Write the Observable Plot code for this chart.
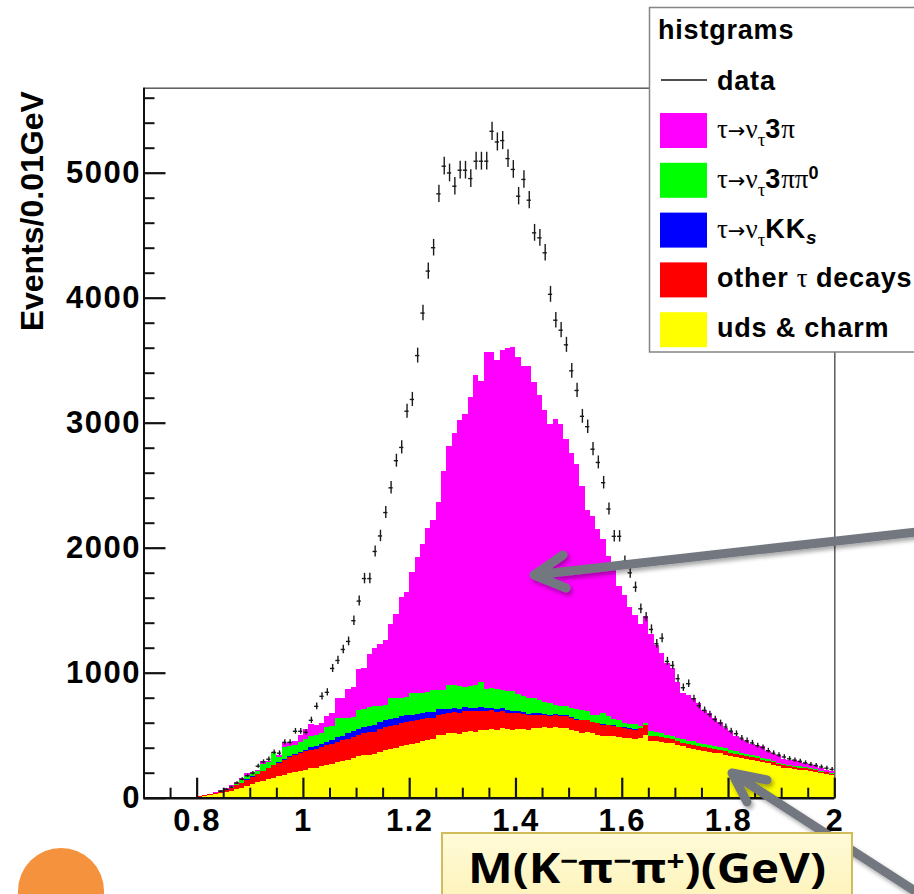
<!DOCTYPE html>
<html>
<head>
<meta charset="utf-8">
<script src="https://cdn.jsdelivr.net/npm/d3@7"></script>
<script src="https://cdn.jsdelivr.net/npm/@observablehq/plot@0.6"></script>
<style>
  html, body { margin: 0; padding: 0; background: #fff; overflow: hidden; }
  #wrap { position: relative; width: 914px; height: 894px; overflow: hidden; }
  #wrap > svg { position: absolute; left: 0; top: 0; }
  #wrap g[aria-label$="tick label"] text { letter-spacing: 1.5px; }
</style>
</head>
<body>
<div id="wrap"></div>
<script>
// Histogram binning: 130 bins of 0.01 GeV starting at 0.70 GeV
const binStart = 0.70;
const binWidth = 0.01;

// MC components (events per bin), stacked bottom to top
const udsCharm = [
  0,0,0,0,1,1,1,1,2,3,
  8,14,20,26,34,45,55,68,80,95,
  110,122,135,148,160,172,185,195,205,215,
  225,235,240,250,262,270,282,290,300,318,
  330,340,345,350,365,380,388,400,415,420,
  430,440,455,465,470,500,505,515,520,510,
  525,530,528,540,545,548,540,555,550,545,
  552,548,545,555,560,562,555,565,558,560,
  540,530,520,525,515,505,495,490,492,485,
  480,478,470,476,500,450,452,445,440,436,
  420,410,398,390,385,375,368,360,356,345,
  335,328,320,312,305,295,285,275,262,250,
  240,235,230,225,220,215,205,195,190,180
];
const otherTau = [
  0,0,0,0,1,1,1,1,1,1,
  4,6,8,10,14,20,25,32,40,50,
  58,68,80,88,98,107,118,128,135,140,
  145,150,152,155,158,160,165,168,172,170,
  175,178,180,178,182,185,185,185,186,188,
  185,180,175,172,170,165,165,160,165,168,
  165,160,165,155,150,150,145,140,130,132,
  125,120,115,110,105,100,100,95,98,95,
  100,95,100,95,90,92,90,88,85,80,
  80,75,75,80,83,45,42,40,38,35,
  32,30,32,30,28,27,28,27,26,25,
  25,24,24,22,22,22,20,20,20,18,
  18,17,16,16,15,15,14,14,13,12
];
const tauKKs = [
  0,0,0,0,0,0,0,0,0,0,
  0,0,0,0,1,1,1,1,1,1,
  2,2,2,3,4,5,6,8,10,12,
  15,18,22,25,28,32,35,38,42,45,
  48,50,52,54,55,55,55,54,53,52,
  50,48,46,45,43,42,40,38,36,34,
  32,30,28,27,25,23,22,20,18,17,
  15,14,13,12,11,10,9,8,7,6,
  6,5,5,4,4,3,3,3,2,2,
  2,2,1,1,1,1,1,1,1,1,
  1,1,1,1,1,1,1,1,1,1,
  0,0,0,0,0,0,0,0,0,0,
  0,0,0,0,0,0,0,0,0,0
];
const tau3PiPi0 = [
  0,0,0,0,0,0,0,0,0,0,
  0,0,0,2,4,6,8,12,18,30,
  25,20,55,45,95,40,95,80,75,80,
  85,90,90,85,115,110,155,145,120,115,
  150,140,145,155,135,125,170,158,145,142,
  171,168,160,160,180,156,150,190,182,180,
  160,170,180,207,150,155,160,145,152,156,
  138,128,127,123,104,93,96,72,67,69,
  69,80,80,66,56,65,92,69,51,53,
  38,35,44,18,16,34,30,34,26,18,
  22,29,24,29,26,27,23,22,22,24,
  20,18,16,15,13,13,13,13,13,12,
  10,11,9,9,9,8,8,8,6,6
];
const tau3Pi = [
  0,0,0,0,0,0,0,0,0,0,
  3,4,5,5,6,8,10,14,20,25,
  10,8,18,10,8,15,36,34,30,53,
  80,97,76,81,87,108,159,155,234,236,
  325,332,428,463,493,520,592,673,805,843,
  972,1091,1192,1318,1357,1504,1753,1909,2015,2133,
  2185,2316,2483,2402,2692,2686,2633,2718,2747,2755,
  2695,2643,2653,2525,2439,2334,2233,2293,2260,2140,
  2045,1960,1785,1610,1590,1485,1390,1280,1220,1070,
  1020,938,870,817,850,780,700,636,576,546,
  454,366,368,346,316,273,256,226,197,161,
  150,120,109,101,91,80,92,62,56,63,
  41,35,43,40,33,26,37,20,15,17
];

// Observed events per bin
const observed = [
  0,0,0,0,0,0,0,0,0,0,
  0,0,0,0,55,70,88,120,152,180,
  200,256,290,312,367,360,447,447,535,535,
  527,623,735,815,847,1038,1102,1190,1254,1420,
  1577,1757,1757,1974,2098,2285,2483,2700,2806,3096,
  3190,3541,3881,4217,4404,4835,5056,5002,4896,5024,
  5024,4957,5096,5096,5096,5335,5250,5261,5117,5030,
  4816,4950,4784,4523,4483,4363,4031,3824,3744,3627,
  3419,3262,3055,2972,2792,2686,2524,2314,2095,2095,
  1895,1803,1688,1515,1448,1350,1235,1280,1094,1062,
  956,884,916,796,740,703,670,630,600,570,
  537,516,480,460,442,420,405,380,360,345,
  330,315,305,295,282,270,262,250,240,230
];

// Stack order (bottom to top), colours and legend labels
const seriesKeys = ["uds", "other", "kks", "3pipi0", "3pi"];
const seriesValues = [udsCharm, otherTau, tauKKs, tau3PiPi0, tau3Pi];
const seriesColors = ["#ffff00", "#ff0000", "#0000ff", "#00ff00", "#ff00ff"];
const seriesLabels = [
  [["uds & charm", "sans"]],
  [["other ", "sans"], ["τ", "sym"], [" decays", "sans"]],
  [["τ", "sym"], ["→", "arrow"], ["ν", "sym"], ["τ", "sub"], ["KK", "sans"], ["s", "subi"]],
  [["τ", "sym"], ["→", "arrow"], ["ν", "sym"], ["τ", "sub"], ["3", "sans"], ["ππ", "sym"], ["0", "sup"]],
  [["τ", "sym"], ["→", "arrow"], ["ν", "sym"], ["τ", "sub"], ["3", "sans"], ["π", "sym"]]
];

// Axis ticks
const xMajor = [0.8, 1, 1.2, 1.4, 1.6, 1.8, 2];
const xMinor = [0.75, 0.85, 0.9, 0.95, 1.05, 1.1, 1.15, 1.25, 1.3, 1.35, 1.45, 1.5, 1.55, 1.65, 1.7, 1.75, 1.85, 1.9, 1.95];
const yMajor = [0, 1000, 2000, 3000, 4000, 5000];
const yMinor = [200, 400, 600, 800, 1200, 1400, 1600, 1800, 2200, 2400, 2600, 2800, 3200, 3400, 3600, 3800, 4200, 4400, 4600, 4800, 5200, 5400, 5600];
const yLabel = "Events/0.01GeV";

// Long-form rows for the stacked histogram
const stackRows = [];
observed.forEach((_, i) => {
  const x1 = binStart + i * binWidth;
  const x2 = x1 + binWidth;
  seriesKeys.forEach((key, s) => stackRows.push({x1, x2, series: key, value: seriesValues[s][i]}));
});
const dataRows = observed
  .map((n, i) => ({x: binStart + (i + 0.5) * binWidth, n}))
  .filter(d => d.n > 0);

const sans = "'Liberation Sans', Arial, Helvetica, sans-serif";
const serif = "'Liberation Serif', 'Times New Roman', serif";

const chart = Plot.plot({
  width: 914,
  height: 894,
  marginLeft: 143.5,
  marginRight: 79.7,
  marginTop: 87.7,
  marginBottom: 96.3,
  style: {fontFamily: sans, background: "transparent", overflow: "visible"},
  x: {domain: [0.7, 2.0]},
  y: {domain: [0, 5680]},
  color: {domain: seriesKeys, range: seriesColors},
  marks: [
    Plot.rectY(stackRows, {x1: "x1", x2: "x2", y: "value", fill: "series", shapeRendering: "crispEdges"}),
    Plot.ruleX(dataRows, {x: "x", y1: d => d.n - Math.sqrt(d.n), y2: d => d.n + Math.sqrt(d.n), stroke: "#1a1a1a", strokeWidth: 1.4}),
    Plot.ruleY(dataRows, {y: "n", x1: d => d.x - 0.4 * binWidth, x2: d => d.x + 0.4 * binWidth, stroke: "#1a1a1a", strokeWidth: 1.4}),
    Plot.frame({stroke: "#5c5c5c", strokeWidth: 1.5}),
    Plot.ruleX([0.7], {stroke: "#111", strokeWidth: 2}),
    Plot.ruleY([0], {stroke: "#111", strokeWidth: 2.5}),
    Plot.axisX(xMinor, {tickSize: -10, stroke: "#111", strokeWidth: 2, fill: "none", label: null}),
    Plot.axisX(xMajor, {tickSize: -20, stroke: "#111", strokeWidth: 2.2, fill: "none", label: null}),
    Plot.axisX(xMajor, {tickSize: 0, tickPadding: 11, tickFormat: d => String(d), fontSize: 31, fontWeight: "bold", fill: "#000", label: null}),
    Plot.axisY(yMinor, {tickSize: -11, stroke: "#111", strokeWidth: 2, fill: "none", label: null}),
    Plot.axisY(yMajor, {tickSize: -22, stroke: "#111", strokeWidth: 2.2, fill: "none", label: null}),
    Plot.axisY(yMajor, {tickSize: 0, tickPadding: 3, tickFormat: d => String(d), fontSize: 31, fontWeight: "bold", fill: "#000", label: null}),
    Plot.text([yLabel], {text: d => d, frameAnchor: "top-left", rotate: -90, textAnchor: "end", dx: -124, dy: 3, fontSize: 32, fontWeight: "bold", fill: "#000"})
  ]
});

const wrap = document.getElementById("wrap");
wrap.appendChild(chart);

// Overlay: legend, annotation arrows, axis title box
const ov = d3.select(wrap).append("svg")
  .attr("width", 914).attr("height", 894)
  .style("pointer-events", "none");

const defs = ov.append("defs");
defs.append("filter").attr("id", "shadow").attr("x", "-20%").attr("y", "-20%").attr("width", "140%").attr("height", "140%")
  .append("feDropShadow").attr("dx", 2).attr("dy", 3).attr("stdDeviation", 2)
  .attr("flood-color", "#000").attr("flood-opacity", 0.35);
const grad = defs.append("linearGradient").attr("id", "boxfill").attr("x1", 0).attr("y1", 0).attr("x2", 0).attr("y2", 1);
grad.append("stop").attr("offset", "0%").attr("stop-color", "#fffbd9");
grad.append("stop").attr("offset", "100%").attr("stop-color", "#fcf1b4");

// Legend
const lg = ov.append("g");
lg.append("rect").attr("x", 649.5).attr("y", 7.5).attr("width", 300).attr("height", 344.5)
  .attr("fill", "#fff").attr("stroke", "#858585").attr("stroke-width", 1.5);
lg.append("text").attr("x", 658).attr("y", 39).attr("font-family", sans).attr("font-weight", "bold")
  .attr("font-size", 27).style("letter-spacing", "0.8px").text("histgrams");
lg.append("line").attr("x1", 661).attr("x2", 707).attr("y1", 80).attr("y2", 80)
  .attr("stroke", "#111").attr("stroke-width", 1.5);
lg.append("text").attr("x", 717).attr("y", 90).attr("font-family", sans).attr("font-weight", "bold")
  .attr("font-size", 27).style("letter-spacing", "0.8px").text("data");

const rowOrder = [4, 3, 2, 1, 0];
rowOrder.forEach((s, r) => {
  const top = 113 + r * 49.8;
  lg.append("rect").attr("x", 660).attr("y", top).attr("width", 47).attr("height", 35)
    .attr("fill", seriesColors[s]);
  const t = lg.append("text").attr("x", 717).attr("y", top + 25)
    .style("white-space", "pre").attr("fill", "#000");
  let shift = 0;
  seriesLabels[s].forEach(([str, kind]) => {
    let target = 0;
    const sp = t.append("tspan");
    if (kind === "sans") {
      sp.attr("font-family", sans).attr("font-weight", "bold").attr("font-size", 27).style("letter-spacing", "0.8px");
    } else if (kind === "sym") {
      sp.attr("font-family", serif).attr("font-size", 27);
    } else if (kind === "arrow") {
      sp.attr("font-family", "'DejaVu Sans', sans-serif").attr("font-size", 21);
    } else if (kind === "sub") {
      sp.attr("font-family", serif).attr("font-size", 19); target = 8;
    } else if (kind === "subi") {
      sp.attr("font-family", sans).attr("font-weight", "bold").attr("font-style", "italic").attr("font-size", 19); target = 6;
    } else if (kind === "sup") {
      sp.attr("font-family", sans).attr("font-weight", "bold").attr("font-size", 18); target = -9;
    }
    sp.attr("dy", target - shift);
    shift = target;
    sp.text(str);
  });
});

// Annotation arrows
const arrows = [
  {tip: [534, 575], tail: [925, 531], arms: [[563, 555], [566, 588]]},
  {tip: [732, 773], tail: [935, 904], arms: [[767, 780], [747, 802]]}
];
const ag = ov.append("g").attr("filter", "url(#shadow)");
arrows.forEach(a => {
  ag.append("path")
    .attr("d", `M${a.tail}L${a.tip}M${a.arms[0]}L${a.tip}L${a.arms[1]}`)
    .attr("fill", "none").attr("stroke", "#737880").attr("stroke-width", 9)
    .attr("stroke-linecap", "round").attr("stroke-linejoin", "round");
});

// Axis title box
const xb = ov.append("g");
xb.append("rect").attr("x", 442).attr("y", 833).attr("width", 410).attr("height", 80)
  .attr("fill", "url(#boxfill)").attr("stroke", "#d2bb5a").attr("stroke-width", 2);
const xt = xb.append("text").attr("x", 468).attr("y", 883)
  .attr("font-family", "'Open Sans', Lato, sans-serif").attr("font-weight", "bold").attr("font-size", 42)
  .attr("textLength", 358).attr("lengthAdjust", "spacingAndGlyphs").attr("fill", "#000");
const xTitle = [["M(K", 0], ["−", 1], ["π", 0], ["−", 1], ["π", 0], ["+", 1], [")(GeV)", 0]];
let lift = 0;
xTitle.forEach(([str, sup]) => {
  const target = sup ? -12 : 0;
  xt.append("tspan").attr("dy", target - lift).attr("font-size", sup ? 28 : 42).text(str);
  lift = target;
});

// Slide marker
ov.append("circle").attr("cx", 61).attr("cy", 891).attr("r", 43).attr("fill", "#f5923e");
</script>
</body>
</html>
